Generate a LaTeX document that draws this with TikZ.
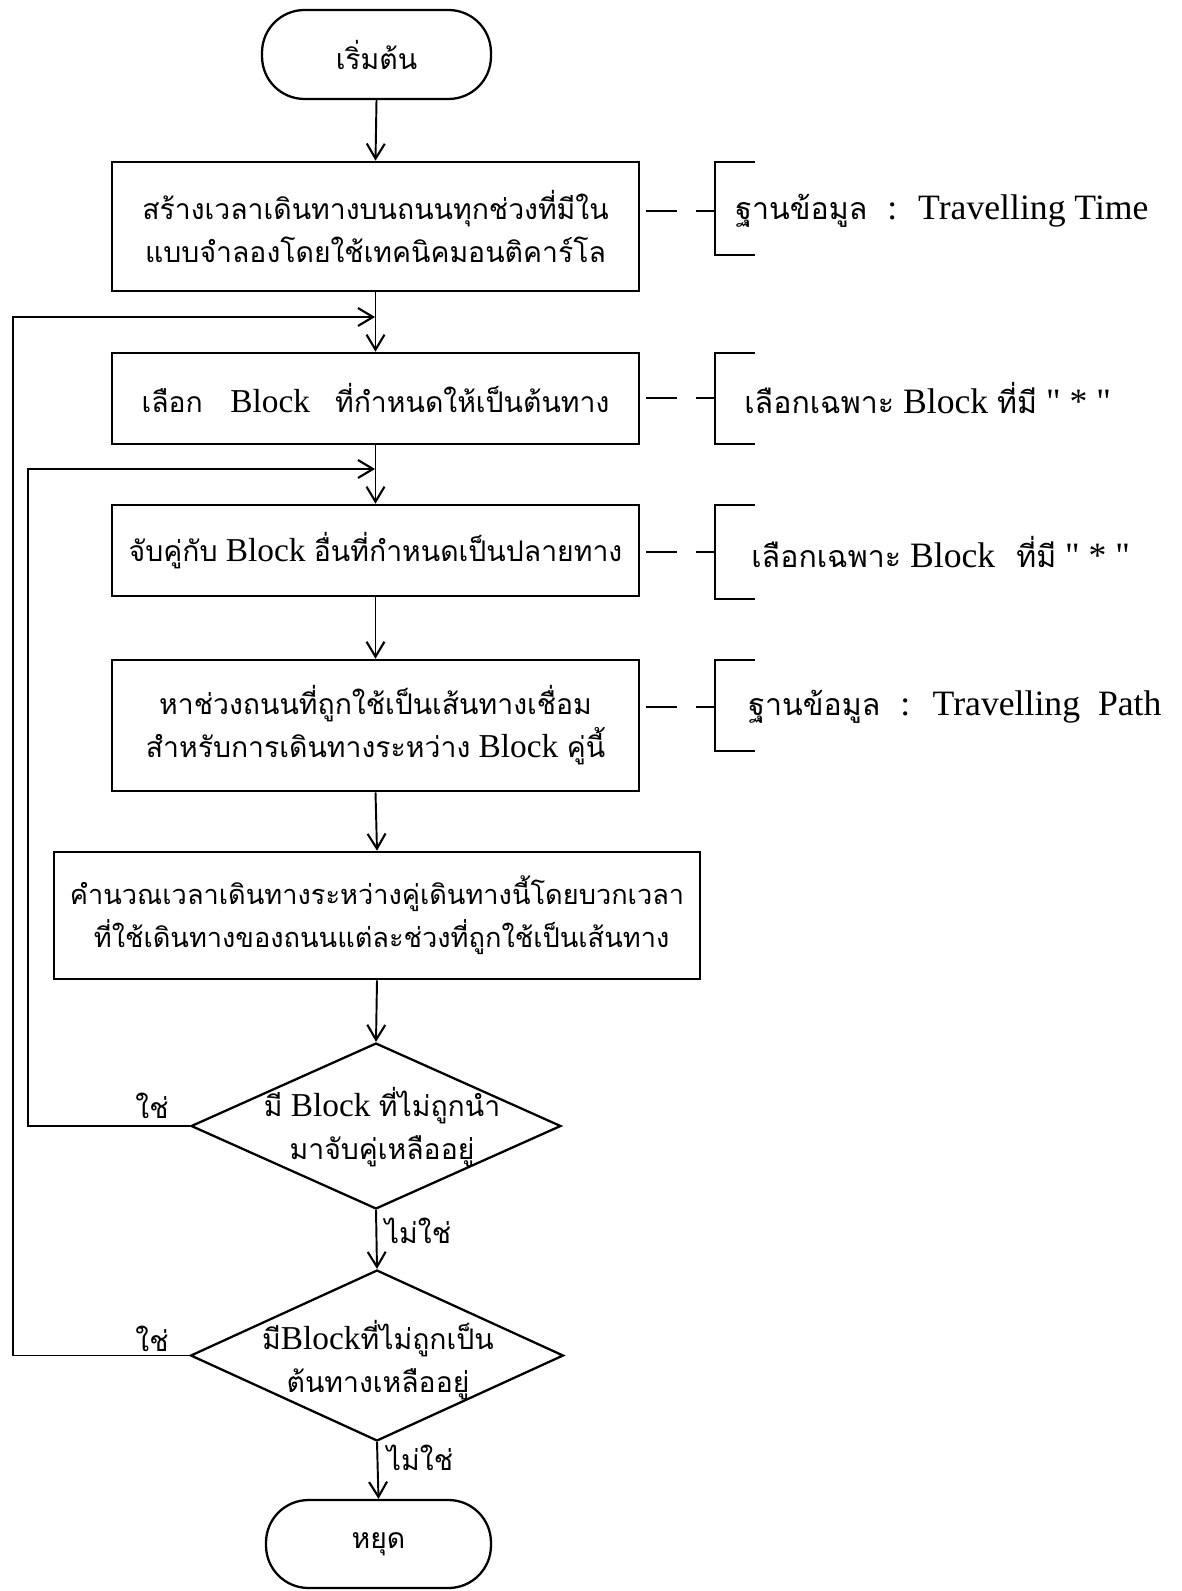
\documentclass[tikz,border=0pt]{standalone}
\usepackage{fontspec}
\setmainfont{Liberation Serif}
\newfontfamily\thf[Script=Thai,Scale=0.85]{Loma}
\usetikzlibrary{arrows.meta,shapes.geometric,calc}
\newcommand{\qd}{\textquotedbl}
\begin{document}
\begin{tikzpicture}[x=0.02cm,y=-0.02cm,
  every node/.style={font=\fontsize{19}{24.5}\selectfont},
  box/.style={draw,line width=1.5pt,inner sep=0pt,align=center},
  term/.style={draw,line width=1.3pt,rounded corners=0.85cm,inner sep=0pt,align=center},
  dia/.style={draw,diamond,line width=1.3pt,inner sep=0pt,aspect=2.2},
  arr/.style={line width=1.1pt,-{Straight Barb[length=0.3cm,width=0.36cm,line width=1.2pt]}},
  brk/.style={line width=1.5pt},
  dsh/.style={line width=1.5pt,dash pattern=on 0.62cm off 0.38cm on 0.5cm},
  txt/.style={inner sep=0pt,anchor=west,font=\fontsize{20.3}{24.5}\selectfont},
  lbl/.style={inner sep=0pt}]
\useasboundingbox (0,0) rectangle (1181,1591);
% terminals
\node[term,minimum width=4.58cm,minimum height=1.78cm] (start) at (376.5,54.5) {\thf เริ่มต้น};
\node[term,minimum width=4.5cm,minimum height=1.76cm] (stop) at (378.5,1544) {\thf หยุด};
% boxes
\node[box,minimum width=10.54cm,minimum height=2.58cm] (b1) at (375.5,226.5)
  {\thf สร้างเวลาเดินทางบนถนนทุกช่วงที่มีใน\\\thf แบบจำลองโดยใช้เทคนิคมอนติคาร์โล};
\node[box,minimum width=10.54cm,minimum height=1.82cm] (b2) at (375.5,398.5)
  {{\thf เลือก}\hspace{0.55cm}Block\hspace{0.5cm}{\thf ที่กำหนดให้เป็นต้นทาง}};
\node[box,minimum width=10.54cm,minimum height=1.82cm] (b3) at (375.5,550.5)
  {{\thf จับคู่กับ} Block {\thf อื่นที่กำหนดเป็นปลายทาง}};
\node[box,minimum width=10.54cm,minimum height=2.62cm] (b4) at (375.5,725.5)
  {\thf หาช่วงถนนที่ถูกใช้เป็นเส้นทางเชื่อม\\{\thf สำหรับการเดินทางระหว่าง} Block {\thf คู่นี้}};
\node[box,minimum width=12.92cm,minimum height=2.54cm,font=\fontsize{18.2}{24.5}\selectfont] (b5) at (377,915.5)
  {\thf คำนวณเวลาเดินทางระหว่างคู่เดินทางนี้โดยบวกเวลา\\\thf \ ที่ใช้เดินทางของถนนแต่ละช่วงที่ถูกใช้เป็นเส้นทาง};
% diamonds
\node[dia,minimum width=7.4cm,minimum height=3.32cm] (d1) at (376,1126) {};
\node[lbl,align=center] (d1t) at (382,1127) {{\thf มี} Block {\thf ที่ไม่ถูกนำ}\\\thf มาจับคู่เหลืออยู่};
\node[dia,minimum width=7.46cm,minimum height=3.42cm] (d2) at (377,1355.5) {};
\node[lbl,align=center] (d2t) at (378,1360) {{\thf มี}Block{\thf ที่ไม่ถูกเป็น}\\\thf ต้นทางเหลืออยู่};
% labels
\node[lbl] (y1) at (152,1106) {\thf ใช่};
\node[lbl] (y2) at (152,1339) {\thf ใช่};
\node[lbl] (n1) at (418,1231) {\thf ไม่ใช่};
\node[lbl] (n2) at (420,1458) {\thf ไม่ใช่};
% junctions
\coordinate (j1) at (375,317);
\coordinate (j2) at (375,469);
\coordinate (o1) at (13,317);
\coordinate (o2) at (28,469);
% main flow
\draw[arr] (start.south) -- (b1.north);
\draw[arr] (b1.south) -- (b2.north);
\draw[arr] (b2.south) -- (b3.north);
\draw[arr] (b3.south) -- (b4.north);
\draw[arr] (b4.south) -- (b5.north);
\draw[arr] (b5.south) -- (d1.north);
\draw[arr] (d1.south) -- (d2.north);
\draw[arr] (d2.south) -- (stop.north);
% loops
\draw[arr] (d2.west) -- (d2.west -| o1) -- (o1) -- (j1);
\draw[arr] (d1.west) -- (d1.west -| o2) -- (o2) -- (j2);
% brackets
\coordinate (k1) at (715,211);
\coordinate (k2) at (715,398);
\coordinate (k3) at (715,552);
\coordinate (k4) at (715,707);
\draw[dsh,shorten <=0.12cm] (b1.east |- k1) -- (k1);
\draw[dsh,shorten <=0.12cm] (b2.east |- k2) -- (k2);
\draw[dsh,shorten <=0.12cm] (b3.east |- k3) -- (k3);
\draw[dsh,shorten <=0.12cm] (b4.east |- k4) -- (k4);
\draw[brk] (755,162) -- (715,162) -- (715,255) -- (755,255);
\draw[brk] (755,353) -- (715,353) -- (715,444) -- (755,444);
\draw[brk] (755,505) -- (715,505) -- (715,599) -- (755,599);
\draw[brk] (755,660) -- (715,660) -- (715,751) -- (755,751);
\node[txt] (t1) at (735,211) {{\thf ฐานข้อมูล}\hspace{0.4cm}:\hspace{0.42cm}Travelling Time};
\node[txt] (t2) at (744,398) {{\thf เลือกเฉพาะ} Block {\thf ที่มี} \qd\ * \qd};
\node[txt] (t3) at (751,552) {{\thf เลือกเฉพาะ} Block\hspace{0.42cm}{\thf ที่มี} \qd\ * \qd};
\node[txt] (t4) at (748,707) {{\thf ฐานข้อมูล}\hspace{0.4cm}:\hspace{0.45cm}Travelling\hspace{0.36cm}Path};
\end{tikzpicture}
\end{document}
